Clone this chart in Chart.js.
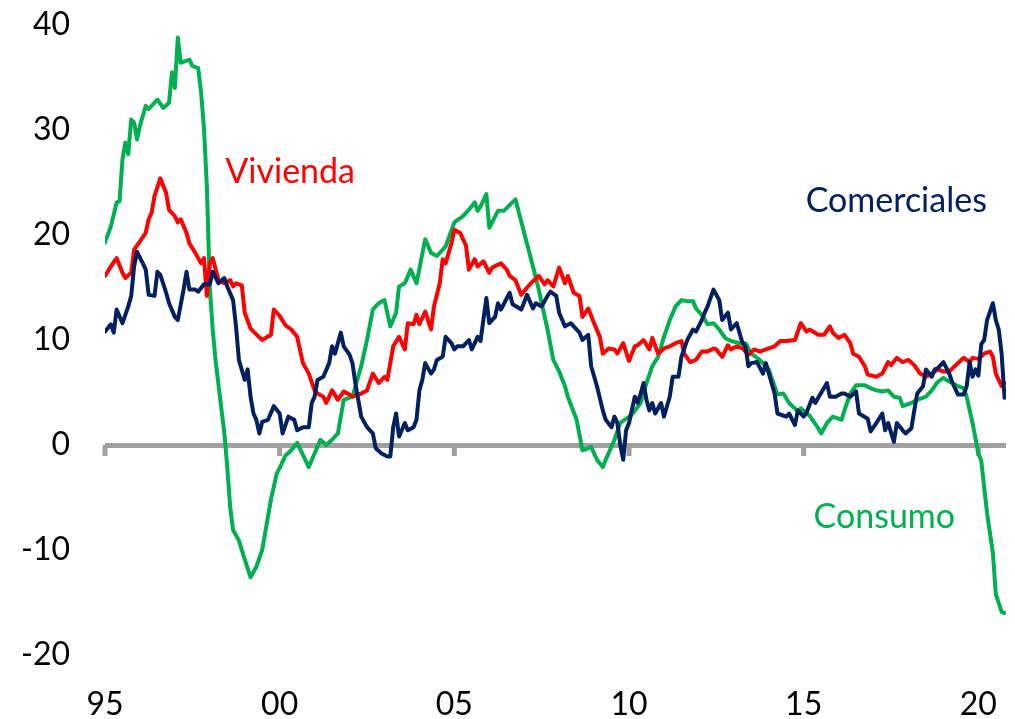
<!DOCTYPE html>
<html>
<head>
<meta charset="utf-8">
<script src="https://cdn.jsdelivr.net/npm/chart.js@4.4.1/dist/chart.umd.min.js"></script>
<style>
  body { margin: 0; background: #fff; }
</style>
</head>
<body>
<canvas id="myChart" width="1015" height="719"></canvas>
<script>
// months counted from Jan 1995 (0 = Jan 95)
let xTickPos = [0, 60, 120, 180, 240, 300];
let xTickLabels = ['95', '00', '05', '10', '15', '20'];

let consumoMes = [0,2,4,5,6,7,8,9,10,11,12,14,15,18,20,22,23,24,25,26,29,30,32,33,34,35,36,37,38,41,42,43,44,46,48,50,52,54,56,57,59,60,62,64,66,70,74,76,78,80,82,85,88,90,92,94,96,98,100,101,103,105,107,110,112,114,117,120,123,124,127,128,129,131,132,135,137,141,144,147,149,152,154,156,158,159,162,164,167,169,171,172,175,177,179,181,184,186,188,190,192,194,196,198,200,202,203,205,207,209,211,213,215,218,220,222,224,226,228,231,233,235,238,239,242,245,246,248,250,253,254,256,258,261,263,265,267,269,271,273,274,277,279,282,284,286,288,289,291,293,295,296,298,300,301,303,305,306,308,309];
let consumo = [19.3,20.8,23.1,23.2,27.2,28.8,27.7,31.0,30.7,29.1,30.4,32.3,32.0,32.9,32.1,32.6,35.5,34.0,38.8,36.4,36.7,36.1,35.9,33.6,30.1,24.6,15.0,11.0,8.0,1.1,-2.1,-5.9,-8.1,-9.1,-10.9,-12.6,-11.6,-10.0,-6.8,-5.2,-2.7,-2.2,-1.0,-0.5,0.2,-2.1,0.5,0.0,0.5,1.1,4.3,4.6,7.5,10.0,12.9,13.5,13.8,11.3,12.6,15.1,15.4,16.7,15.4,19.6,18.3,18.0,18.9,21.2,21.8,22.1,23.1,22.3,22.7,23.9,20.7,22.3,22.3,23.4,20.2,17.0,14.8,11.0,8.1,7.0,5.6,4.6,2.4,-0.5,-0.2,-1.4,-2.1,-1.4,0.5,2.1,2.5,2.9,4.0,5.9,7.5,8.4,10.3,11.9,13.2,13.8,13.7,13.7,13.0,12.4,11.5,11.6,11.0,10.2,9.9,9.7,9.7,8.7,8.3,7.8,7.2,4.8,4.9,4.0,3.2,3.5,2.8,1.6,1.1,2.1,2.7,2.4,3.3,4.9,5.7,5.7,5.4,5.2,5.1,5.2,4.6,4.5,3.7,4.0,4.3,4.6,5.2,6.0,6.4,6.2,5.9,5.6,5.4,4.6,2.1,-0.8,-1.5,-6.5,-10.3,-14.2,-15.9,-16.0];

let viviendaMes = [0,2,4,6,7,9,10,12,14,15,16,17,19,21,22,24,25,26,28,29,31,33,34,35,36,37,39,41,43,44,45,47,48,50,51,54,57,58,60,62,64,66,68,70,72,73,75,76,78,80,82,84,85,88,90,92,94,96,97,99,101,103,104,106,107,108,110,112,113,115,116,117,119,120,122,124,125,127,128,130,132,133,136,138,139,141,143,145,147,149,151,152,154,156,158,159,161,163,164,166,168,170,171,173,175,176,178,180,182,183,185,187,188,190,192,194,196,198,199,201,203,205,207,209,210,212,214,215,217,219,221,223,225,227,230,232,234,237,239,241,242,245,247,249,250,252,254,256,257,259,261,262,265,267,269,270,272,274,276,278,280,282,284,286,288,290,293,295,297,298,300,302,304,305,306,308,309];
let vivienda = [16.1,17.0,17.8,16.4,15.9,16.4,18.6,19.4,20.2,21.5,22.1,23.7,25.4,24.0,22.4,21.8,21.2,21.5,20.2,19.2,18.3,17.3,17.8,14.2,17.3,17.8,15.7,15.4,15.7,15.1,15.4,15.2,12.6,11.1,10.8,10.0,10.5,12.9,12.3,11.4,11.0,10.3,7.8,6.8,5.2,4.9,4.6,4.0,5.2,4.3,5.1,4.8,4.6,4.9,5.2,6.8,5.9,6.5,6.2,9.4,10.3,9.1,11.6,11.5,12.4,11.5,12.7,11.0,13.2,15.4,17.7,17.3,19.2,20.5,20.2,19.0,16.7,17.7,17.0,17.5,16.4,16.9,17.3,16.7,16.1,15.7,14.3,15.0,15.6,16.1,15.3,15.7,15.1,16.9,15.4,16.1,14.5,14.2,12.2,13.0,11.6,10.3,8.7,9.2,9.1,8.7,9.7,8.0,9.4,9.5,10.0,9.1,10.2,8.7,9.2,9.4,9.7,9.9,8.7,7.9,8.1,8.9,8.9,9.2,9.1,8.4,9.5,9.1,9.4,9.2,8.6,9.1,8.9,9.1,9.4,9.9,9.9,10.0,11.6,10.8,11.0,10.5,10.5,11.3,10.7,10.2,10.5,9.7,8.7,8.4,7.5,6.7,6.5,6.8,7.9,7.6,8.3,7.9,8.1,7.6,6.8,6.5,6.8,7.2,7.0,7.0,7.8,8.3,7.9,8.3,8.2,8.7,8.9,8.4,6.8,5.6,5.9];

let comercialesMes = [0,2,3,4,6,8,9,10,11,13,14,15,17,18,19,21,22,24,25,27,28,29,31,32,34,36,37,39,41,42,44,45,46,48,49,50,51,52,53,54,56,58,60,61,63,65,66,68,70,71,72,73,75,77,78,79,81,82,84,85,86,88,90,92,93,95,97,98,99,100,101,103,104,106,107,108,109,110,112,113,114,116,117,119,120,121,123,125,126,128,129,131,132,134,135,136,139,140,143,145,147,148,150,152,153,155,156,158,160,161,163,164,166,167,169,171,172,174,175,176,177,178,179,180,182,183,184,185,186,187,188,189,191,192,194,195,197,198,200,202,203,205,206,207,209,211,212,214,215,217,219,220,221,222,224,226,227,230,231,234,235,237,238,240,241,243,244,245,248,249,251,253,254,256,258,259,262,263,265,267,268,269,271,272,274,275,277,278,279,281,282,284,285,286,288,290,291,293,295,296,297,298,299,300,301,302,303,305,306,307,308,309];
let comerciales = [10.8,11.5,10.7,12.9,11.6,13.2,14.2,17.0,18.4,17.3,16.7,14.3,14.2,16.5,16.2,14.5,13.5,12.2,11.9,14.8,16.5,14.8,14.8,14.6,15.3,15.3,16.5,15.4,15.9,15.1,13.8,11.3,8.1,6.2,7.2,4.6,3.0,2.4,1.1,2.2,2.4,3.7,3.0,1.1,2.7,2.4,1.4,1.7,1.7,4.0,4.6,6.2,6.5,7.8,9.4,8.7,10.7,9.4,8.6,7.8,5.9,2.7,1.7,1.1,-0.3,-0.8,-1.1,-1.1,1.7,3.0,0.8,2.1,1.4,1.7,2.4,5.2,6.2,7.8,6.8,7.2,8.1,8.4,10.3,9.7,9.1,9.4,9.4,10.0,9.1,10.3,9.9,14.0,11.6,12.2,13.5,12.9,14.5,13.4,12.9,14.3,13.0,13.5,13.2,14.2,14.6,14.2,12.6,11.3,11.6,11.3,10.7,10.0,10.5,7.5,5.6,3.3,2.4,1.7,2.7,2.1,0.0,-1.4,1.4,2.1,4.6,4.0,4.9,5.9,4.3,3.3,4.0,3.0,4.0,2.7,4.6,6.5,6.5,8.4,10.0,11.0,10.8,11.9,12.6,13.2,14.8,13.8,11.9,12.6,11.0,11.6,9.7,9.4,7.5,7.8,7.9,6.8,7.8,4.9,3.0,2.7,3.0,1.9,3.3,2.7,3.1,4.5,4.0,4.5,5.9,4.6,4.6,4.9,4.9,4.6,5.1,3.0,2.5,1.3,2.1,3.0,1.4,2.1,0.3,2.1,1.4,1.1,1.6,3.3,4.9,5.6,7.2,6.5,7.2,7.3,7.9,6.8,6.0,4.8,4.8,5.6,7.9,6.5,7.2,6.6,9.6,10.0,11.9,13.5,11.9,11.0,8.7,4.5];

function pairs(mes, vals) {
    return mes.map((m, i) => ({x: m, y: vals[i]}));
}

// where each series name is written, in data units
let seriesNames = [
    {text: 'Vivienda', x: 63.6, y: 25.0, color: '#FF0000'},
    {text: 'Comerciales', x: 271.8, y: 22.2, color: '#002060'},
    {text: 'Consumo', x: 267.7, y: -7.9, color: '#00B050'}
];

const fontName = 'Lato, "Open Sans", sans-serif';

const extras = {
    id: 'extras',
    beforeDatasetsDraw(chart) {
        const ctx = chart.ctx;
        const x = chart.scales.x;
        const y0 = chart.scales.y.getPixelForValue(0);
        ctx.save();
        ctx.fillStyle = '#A0A0A0';
        xTickPos.forEach(v => {
            ctx.fillRect(x.getPixelForValue(v) - 2.5, y0, 5, 11);
        });
        ctx.restore();
    },
    afterDatasetsDraw(chart) {
        const ctx = chart.ctx;
        ctx.save();
        ctx.font = '34px ' + fontName;
        ctx.textAlign = 'center';
        ctx.textBaseline = 'alphabetic';
        seriesNames.forEach(s => {
            ctx.fillStyle = s.color;
            ctx.fillText(s.text, chart.scales.x.getPixelForValue(s.x), chart.scales.y.getPixelForValue(s.y));
        });
        ctx.restore();
    }
};

const config = {
    type: 'line',
    data: {
        datasets: [
            {label: 'Comerciales', data: pairs(comercialesMes, comerciales), borderColor: '#002060'},
            {label: 'Vivienda', data: pairs(viviendaMes, vivienda), borderColor: '#FF0000'},
            {label: 'Consumo', data: pairs(consumoMes, consumo), borderColor: '#00B050'}
        ]
    },
    options: {
        responsive: false,
        animation: false,
        devicePixelRatio: 1,
        layout: {padding: {top: 25, right: 9, left: 0, bottom: 0}},
        elements: {
            line: {borderWidth: 4, tension: 0, borderJoinStyle: 'round', borderCapStyle: 'round'},
            point: {radius: 0}
        },
        plugins: {legend: {display: false}, tooltip: {enabled: false}},
        scales: {
            x: {
                type: 'linear',
                min: 0,
                max: 309.5,
                afterBuildTicks: s => { s.ticks = xTickPos.map(v => ({value: v})); },
                afterFit: s => { s.height = 64; },
                grid: {display: false, drawTicks: true, tickLength: 30},
                border: {display: false},
                ticks: {
                    callback: (v, i) => xTickLabels[i],
                    color: '#000',
                    font: {family: fontName, size: 32},
                    padding: 0,
                    maxRotation: 0,
                    autoSkip: false
                }
            },
            y: {
                min: -20,
                max: 40,
                afterFit: s => { s.width = 105; },
                grid: {
                    drawTicks: true,
                    tickLength: 35,
                    tickColor: 'rgba(0,0,0,0)',
                    color: c => c.tick && c.tick.value === 0 ? '#A0A0A0' : 'rgba(0,0,0,0)',
                    lineWidth: c => c.tick && c.tick.value === 0 ? 5 : 0
                },
                border: {display: false},
                ticks: {
                    stepSize: 10,
                    color: '#000',
                    font: {family: fontName, size: 32},
                    padding: 0
                }
            }
        }
    },
    plugins: [extras]
};

let myChart = new Chart(document.getElementById('myChart'), config);
</script>
</body>
</html>
